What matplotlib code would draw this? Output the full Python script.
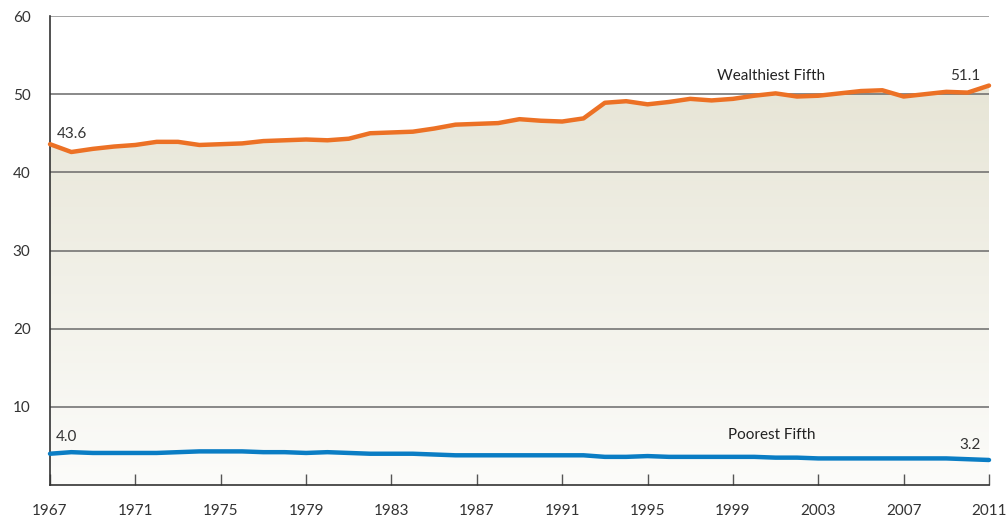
import matplotlib
matplotlib.use("Agg")
import matplotlib.pyplot as plt
import numpy as np

years = list(range(1967, 2012))
wealthiest = [43.6, 42.6, 43.0, 43.3, 43.5, 43.9, 43.9, 43.5, 43.6, 43.7,
              44.0, 44.1, 44.2, 44.1, 44.3, 45.0, 45.1, 45.2, 45.6, 46.1,
              46.2, 46.3, 46.8, 46.6, 46.5, 46.9, 48.9, 49.1, 48.7, 49.0,
              49.4, 49.2, 49.4, 49.8, 50.1, 49.7, 49.8, 50.1, 50.4, 50.5,
              49.7, 50.0, 50.3, 50.2, 51.1]
poorest = [4.0, 4.2, 4.1, 4.1, 4.1, 4.1, 4.2, 4.3, 4.3, 4.3,
           4.2, 4.2, 4.1, 4.2, 4.1, 4.0, 4.0, 4.0, 3.9, 3.8,
           3.8, 3.8, 3.8, 3.8, 3.8, 3.8, 3.6, 3.6, 3.7, 3.6,
           3.6, 3.6, 3.6, 3.6, 3.5, 3.5, 3.4, 3.4, 3.4, 3.4,
           3.4, 3.4, 3.4, 3.3, 3.2]
xticks = list(range(1967, 2012, 4))
yticks = [10, 20, 30, 40, 50, 60]

plt.rcParams['font.family'] = ['Lato', 'DejaVu Sans']

fig = plt.figure(figsize=(10.07, 5.19), dpi=100)
ax = fig.add_axes([50/1007, 34/519, 939/1007, 469/519])
ax.set_xlim(1967, 2011)
ax.set_ylim(0, 60)

# gradient fill under wealthiest line
poly = ax.fill_between(years, 0, wealthiest, color='none', lw=0)
top_c = np.array([231, 229, 214]) / 255
bot_c = np.array([252, 252, 250]) / 255
t = np.linspace(0, 1, 256)[:, None]
grad = bot_c[None, :] * (1 - t) + top_c[None, :] * t
grad = grad[:, None, :]
im = ax.imshow(grad, extent=[1967, 2011, 0, max(wealthiest)], origin='lower',
               aspect='auto', zorder=1)
path = poly.get_paths()[0]
im.set_clip_path(path, transform=ax.transData)

for y in yticks:
    ax.axhline(y, color='#6a6a6a' if y < 60 else '#8a8a8a', lw=1.1, zorder=2)

ax.plot(years, wealthiest, color='#EC7125', lw=3.2, zorder=4,
        solid_joinstyle='round', solid_capstyle='round', clip_on=False)
ax.plot(years, poorest, color='#0A7DC4', lw=3.2, zorder=4,
        solid_joinstyle='round', solid_capstyle='round', clip_on=False)

for s in ['top', 'right']:
    ax.spines[s].set_visible(False)
for s in ['left', 'bottom']:
    ax.spines[s].set_color('#333333')
    ax.spines[s].set_linewidth(1.2)

ax.set_xticks(xticks)
ax.set_xticklabels([str(x) for x in xticks])
ax.set_yticks(yticks)
ax.tick_params(axis='x', direction='in', length=8, width=1, color='#555555',
               pad=14, labelsize=11, labelcolor='#333333')
ax.tick_params(axis='y', length=0, pad=14, labelsize=11, labelcolor='#333333')

fs = 11
ax.text(1967.3, 44.0, f"{wealthiest[0]:.1f}", fontsize=fs,
        color='#333333', ha='left', va='bottom')
ax.text(1967.25, 5.3, f"{poorest[0]:.1f}", fontsize=fs,
        color='#333333', ha='left', va='bottom')
ax.text(2000.8, 51.4, "Wealthiest Fifth", fontsize=fs, color='#222222',
        ha='center', va='bottom')
ax.text(2010.6, 51.4, f"{wealthiest[-1]:.1f}", fontsize=fs, color='#333333',
        ha='right', va='bottom')
ax.text(2000.8, 5.5, "Poorest Fifth", fontsize=fs, color='#222222',
        ha='center', va='bottom')
ax.text(2010.6, 4.2, f"{poorest[-1]:.1f}", fontsize=fs, color='#333333',
        ha='right', va='bottom')

fig.savefig('out.png', dpi=100)
